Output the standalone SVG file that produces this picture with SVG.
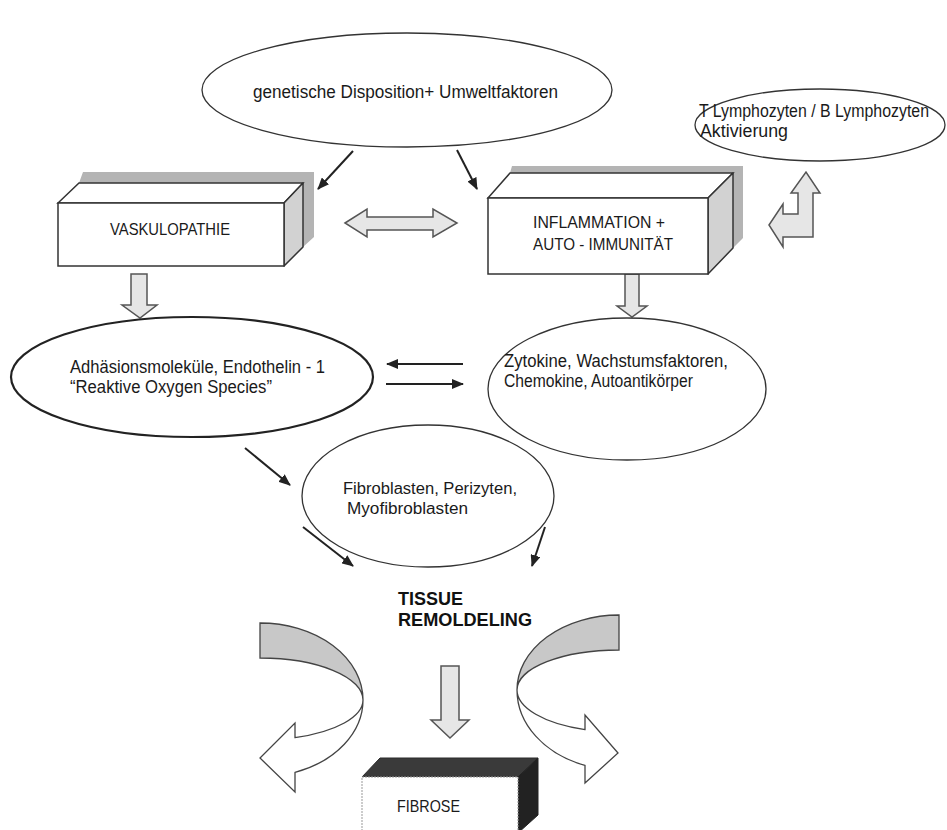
<svg xmlns="http://www.w3.org/2000/svg" width="947" height="830" viewBox="0 0 947 830">
<style>
.t{font-family:"Liberation Sans",Arial,sans-serif;font-size:17.5px;fill:#1a1a1a}
.c{font-size:17px}
.s{font-size:16px}
.b{font-family:"Liberation Sans",Arial,sans-serif;font-weight:bold;font-size:18px;fill:#111}
.el{fill:#fff;stroke:#333;stroke-width:1.3}
.front{fill:#fff;stroke:#333;stroke-width:1.5}
.side{fill:#d2d2d2;stroke:#333;stroke-width:1.5;stroke-linejoin:round}
.shadow{fill:#b4b4b4}
.blk{fill:#e6e6e6;stroke:#555;stroke-width:1.5;stroke-linejoin:miter}
.ln{stroke:#222;stroke-width:2;fill:none;marker-end:url(#ah)}
.rib{fill:#c8c8c8;stroke:#444;stroke-width:1.3}
.ribw{fill:#fff;stroke:#444;stroke-width:1.3}
</style>
<defs>
<marker id="ah" markerUnits="userSpaceOnUse" markerWidth="12" markerHeight="10" refX="11" refY="5" orient="auto">
<path d="M0,0 L12,5 L0,10 z" fill="#222"/>
</marker>
</defs>
<rect width="947" height="830" fill="#fff"/>

<g id="connectors">
<line class="ln" x1="353" y1="151" x2="318" y2="189"/>
<line class="ln" x1="457" y1="150" x2="477" y2="189"/>
<line class="ln" x1="463" y1="364" x2="387" y2="364"/>
<line class="ln" x1="386" y1="384" x2="463" y2="384"/>
<line class="ln" x1="245" y1="448" x2="290" y2="485"/>
<line class="ln" x1="303" y1="527" x2="353" y2="566"/>
<line class="ln" x1="545" y1="527" x2="532" y2="566"/>
<polygon class="blk" points="345,223 367,209 367,217 433,217 433,209 457,223 433,237 433,230 367,230 367,237"/>
<polygon class="blk" points="131,274 147,274 147,305 157,305 140,318 122,305 131,305"/>
<polygon class="blk" points="625,274 639,274 639,306 647,306 632,317 617,306 625,306"/>
<polygon class="blk" points="441,666 459,666 459,720 469,720 450,738 431,720 441,720"/>
<polygon class="blk" points="769,225 783,204 783,214 798,214 798,193 791,193 806,172 820,193 813,193 813,237 783,237 783,247"/>
<path class="rib" d="M260,623 A103,77 0 0 1 363,700 A103,42 0 0 0 260,658 Z"/>
<path class="ribw" d="M363,700 A103,40 0 0 1 295,737.6 L295,723 L260,758 L295,792 L295,772.4 A103,77 0 0 0 363,700 Z"/>
<path class="rib" d="M619,615 A102,75 0 0 0 517,690 A102,40 0 0 1 619,650 Z"/>
<path class="ribw" d="M517,690 A102,42 0 0 0 585,729.6 L585,715 L618,753 L585,783 L585,765.4 A102,80 0 0 1 517,690 Z"/>
</g>

<g id="node-genetik">
<ellipse class="el" cx="407" cy="90" rx="205" ry="57"/>
<text class="t" x="253" y="98" textLength="305" lengthAdjust="spacingAndGlyphs">genetische Disposition+ Umweltfaktoren</text>
</g>

<g id="node-lymph">
<ellipse class="el" cx="820" cy="125" rx="125" ry="36"/>
<text class="t" x="699" y="117" textLength="230" lengthAdjust="spacingAndGlyphs">T Lymphozyten / B Lymphozyten</text>
<text class="t" x="700" y="137" textLength="88" lengthAdjust="spacingAndGlyphs">Aktivierung</text>
</g>

<g id="node-vaskulopathie">
<polygon class="shadow" points="79,183 83,172 314,172 314,237 303,247 303,183"/>
<polygon class="front" points="58,203 79,183 303,183 284,203"/>
<polygon class="side" points="284,203 303,183 303,247 284,266"/>
<rect class="front" x="58" y="203" width="226" height="63"/>
<text class="t c" x="110" y="235" textLength="120" lengthAdjust="spacingAndGlyphs">VASKULOPATHIE</text>
</g>

<g id="node-inflammation">
<polygon class="shadow" points="510,173 512,166 743,166 743,238 733,248 733,173"/>
<polygon class="front" points="488,198 510,173 733,173 708,198"/>
<polygon class="side" points="708,198 733,173 733,248 708,274"/>
<rect class="front" x="488" y="198" width="220" height="76"/>
<text class="t c" x="533" y="228" textLength="132" lengthAdjust="spacingAndGlyphs">INFLAMMATION +</text>
<text class="t c" x="533" y="250" textLength="140" lengthAdjust="spacingAndGlyphs">AUTO - IMMUNITÄT</text>
</g>

<g id="node-adhaesion">
<ellipse cx="192" cy="377" rx="181" ry="60" fill="#fff" stroke="#222" stroke-width="2.2"/>
<text class="t" x="70" y="373" textLength="255" lengthAdjust="spacingAndGlyphs">Adhäsionsmoleküle, Endothelin - 1</text>
<text class="t" x="70" y="393" textLength="202" lengthAdjust="spacingAndGlyphs">“Reaktive Oxygen Species”</text>
</g>

<g id="node-zytokine">
<ellipse class="el" cx="627" cy="389" rx="139" ry="71"/>
<text class="t" x="504" y="367" textLength="224" lengthAdjust="spacingAndGlyphs">Zytokine, Wachstumsfaktoren,</text>
<text class="t" x="504" y="387" textLength="189" lengthAdjust="spacingAndGlyphs">Chemokine, Autoantikörper</text>
</g>

<g id="node-fibroblasten">
<ellipse class="el" cx="428" cy="496" rx="126" ry="71"/>
<text class="t s" x="343" y="494" textLength="174" lengthAdjust="spacingAndGlyphs">Fibroblasten, Perizyten,</text>
<text class="t s" x="347" y="514" textLength="121" lengthAdjust="spacingAndGlyphs">Myofibroblasten</text>
</g>

<g id="node-tissue">
<text class="b" x="398" y="605" textLength="65" lengthAdjust="spacingAndGlyphs">TISSUE</text>
<text class="b" x="398" y="626" textLength="134" lengthAdjust="spacingAndGlyphs">REMOLDELING</text>
</g>

<g id="node-fibrose">
<polygon points="362,777 380,758 538,758 518,777" fill="#3a3a3a" stroke="#2a2a2a" stroke-width="1"/>
<polygon points="518,777 538,758 538,815 518,833" fill="#222" stroke="#222" stroke-width="1"/>
<rect x="362" y="777" width="156" height="60" fill="#fff" stroke="#999" stroke-width="1" stroke-dasharray="2,1"/>
<text class="t" style="font-size:17px" x="397" y="812" textLength="63" lengthAdjust="spacingAndGlyphs">FIBROSE</text>
</g>
</svg>
